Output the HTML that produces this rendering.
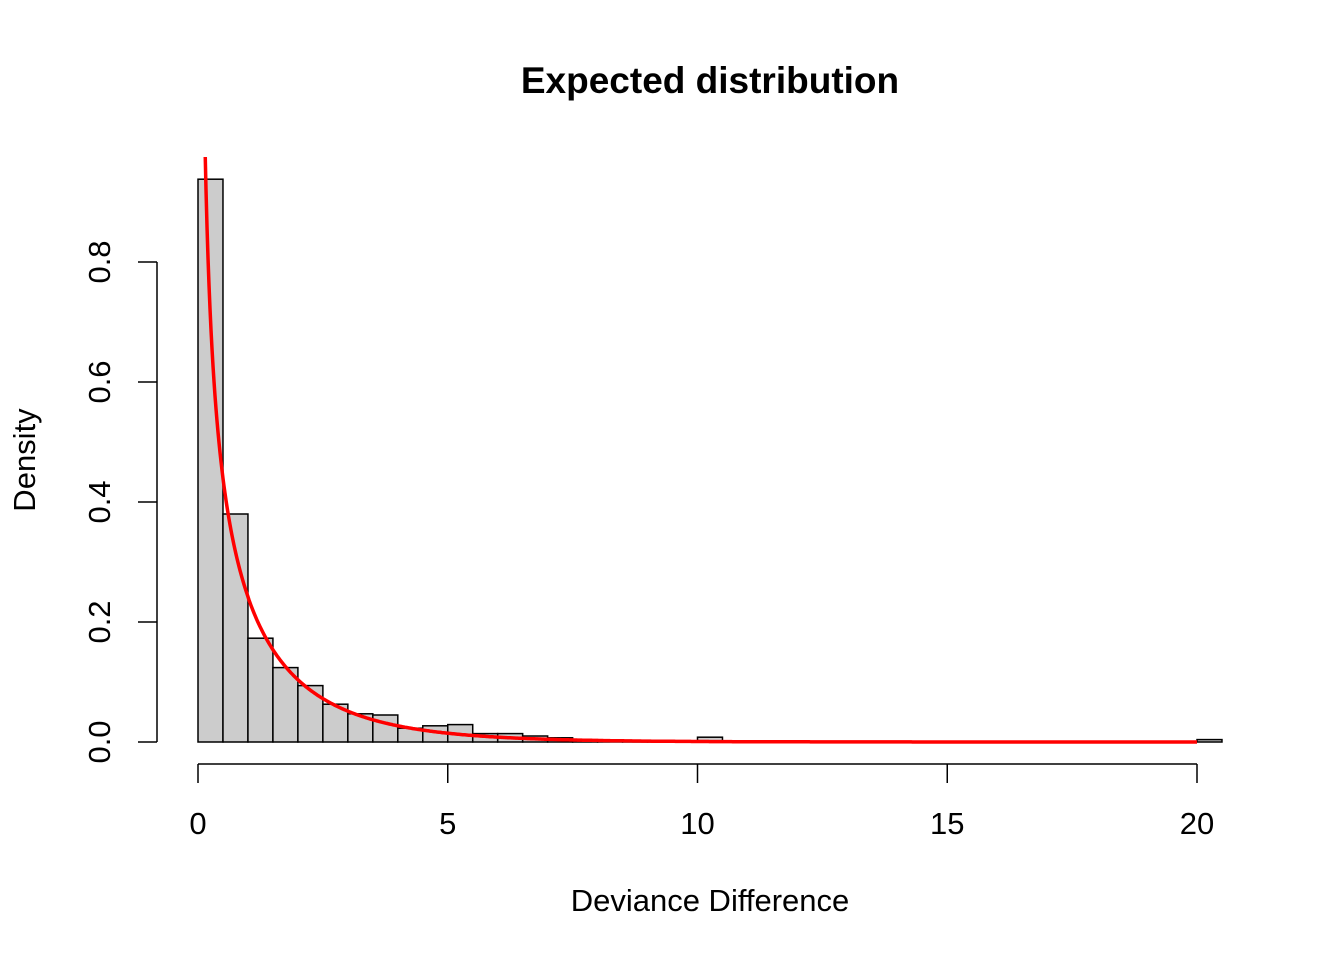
<!DOCTYPE html>
<html><head><meta charset="utf-8"><style>
body{margin:0;background:#fff}
svg{display:block;font-family:"Liberation Sans",Arial,sans-serif}
</style></head><body>
<svg id="c" width="1344" height="960">
<defs><clipPath id="clip"><rect x="0" y="157" width="1344" height="700"/></clipPath></defs>
<text x="710" y="93" text-anchor="middle" font-size="37" font-weight="bold">Expected distribution</text>
<text x="710" y="911" text-anchor="middle" font-size="31">Deviance Difference</text>
<text transform="translate(35,460) rotate(-90)" text-anchor="middle" font-size="31">Density</text>
<g id="bars"></g><g id="axes"></g>
<path id="curve" fill="none" stroke="#ff0000" stroke-width="3.5" clip-path="url(#clip)"/>
</svg>
<script>
const binStarts=[0,0.5,1,1.5,2,2.5,3,3.5,4,4.5,5,5.5,6,6.5,7,7.5,8,8.5,9,9.5,10,10.5,11,11.5,12,12.5,13,13.5,14,14.5,15,15.5,16,16.5,17,17.5,18,18.5,19,19.5,20];
const densities=[0.938,0.38,0.173,0.124,0.094,0.063,0.047,0.045,0.023,0.027,0.029,0.014,0.014,0.01,0.007,0.003,0.002,0.001,0.001,0.001,0.008,0.002,0.002,0.001,0.001,0,0,0,0,0,0,0,0,0,0,0,0,0,0,0,0.004];
const binWidth=0.5;
const xTicks=[0,5,10,15,20];
const yTicks=[0,0.2,0.4,0.6,0.8];
const yTickLabels=["0.0","0.2","0.4","0.6","0.8"];
const X=v=>198+v*49.95, Y=v=>742-v*600;
const NS="http://www.w3.org/2000/svg";
const bars=document.getElementById('bars'),axes=document.getElementById('axes');
function mk(tag,attrs,parent){const e=document.createElementNS(NS,tag);for(const k in attrs)e.setAttribute(k,attrs[k]);parent.appendChild(e);return e;}
binStarts.forEach((b,i)=>{
 const r=mk('rect',{x:X(b),y:Y(densities[i]),width:X(b+binWidth)-X(b),height:Y(0)-Y(densities[i]),fill:'#cccccc',stroke:'#000','stroke-width':1.5},bars);
 
 
});
let l=mk('line',{x1:X(xTicks[0]),x2:X(xTicks[xTicks.length-1]),y1:764,y2:764,stroke:'#000','stroke-width':1.5},axes);


xTicks.forEach(t=>{
 mk('line',{x1:X(t),x2:X(t),y1:764,y2:783,stroke:'#000','stroke-width':1.5},axes);
 const tx=mk('text',{x:X(t),y:834,'text-anchor':'middle','font-size':31},axes);
 tx.textContent=t;
 
 
});
l=mk('line',{x1:157,x2:157,y1:Y(yTicks[0]),y2:Y(yTicks[yTicks.length-1]),stroke:'#000','stroke-width':1.5},axes);


yTicks.forEach((t,i)=>{
 mk('line',{x1:138,x2:157,y1:Y(t),y2:Y(t),stroke:'#000','stroke-width':1.5},axes);
 const tx=mk('text',{transform:`translate(110,${Y(t)}) rotate(-90)`,'text-anchor':'middle','font-size':31},axes);
 tx.textContent=yTickLabels[i];
 
 
});
let d='';
for(let x=0.12;x<=20;x+=0.02){const y=Math.exp(-x/2)/Math.sqrt(2*Math.PI*x);d+=(d?'L':'M')+X(x).toFixed(1)+','+Y(y).toFixed(1);}
document.getElementById('curve').setAttribute('d',d);
</script>
</body></html>
